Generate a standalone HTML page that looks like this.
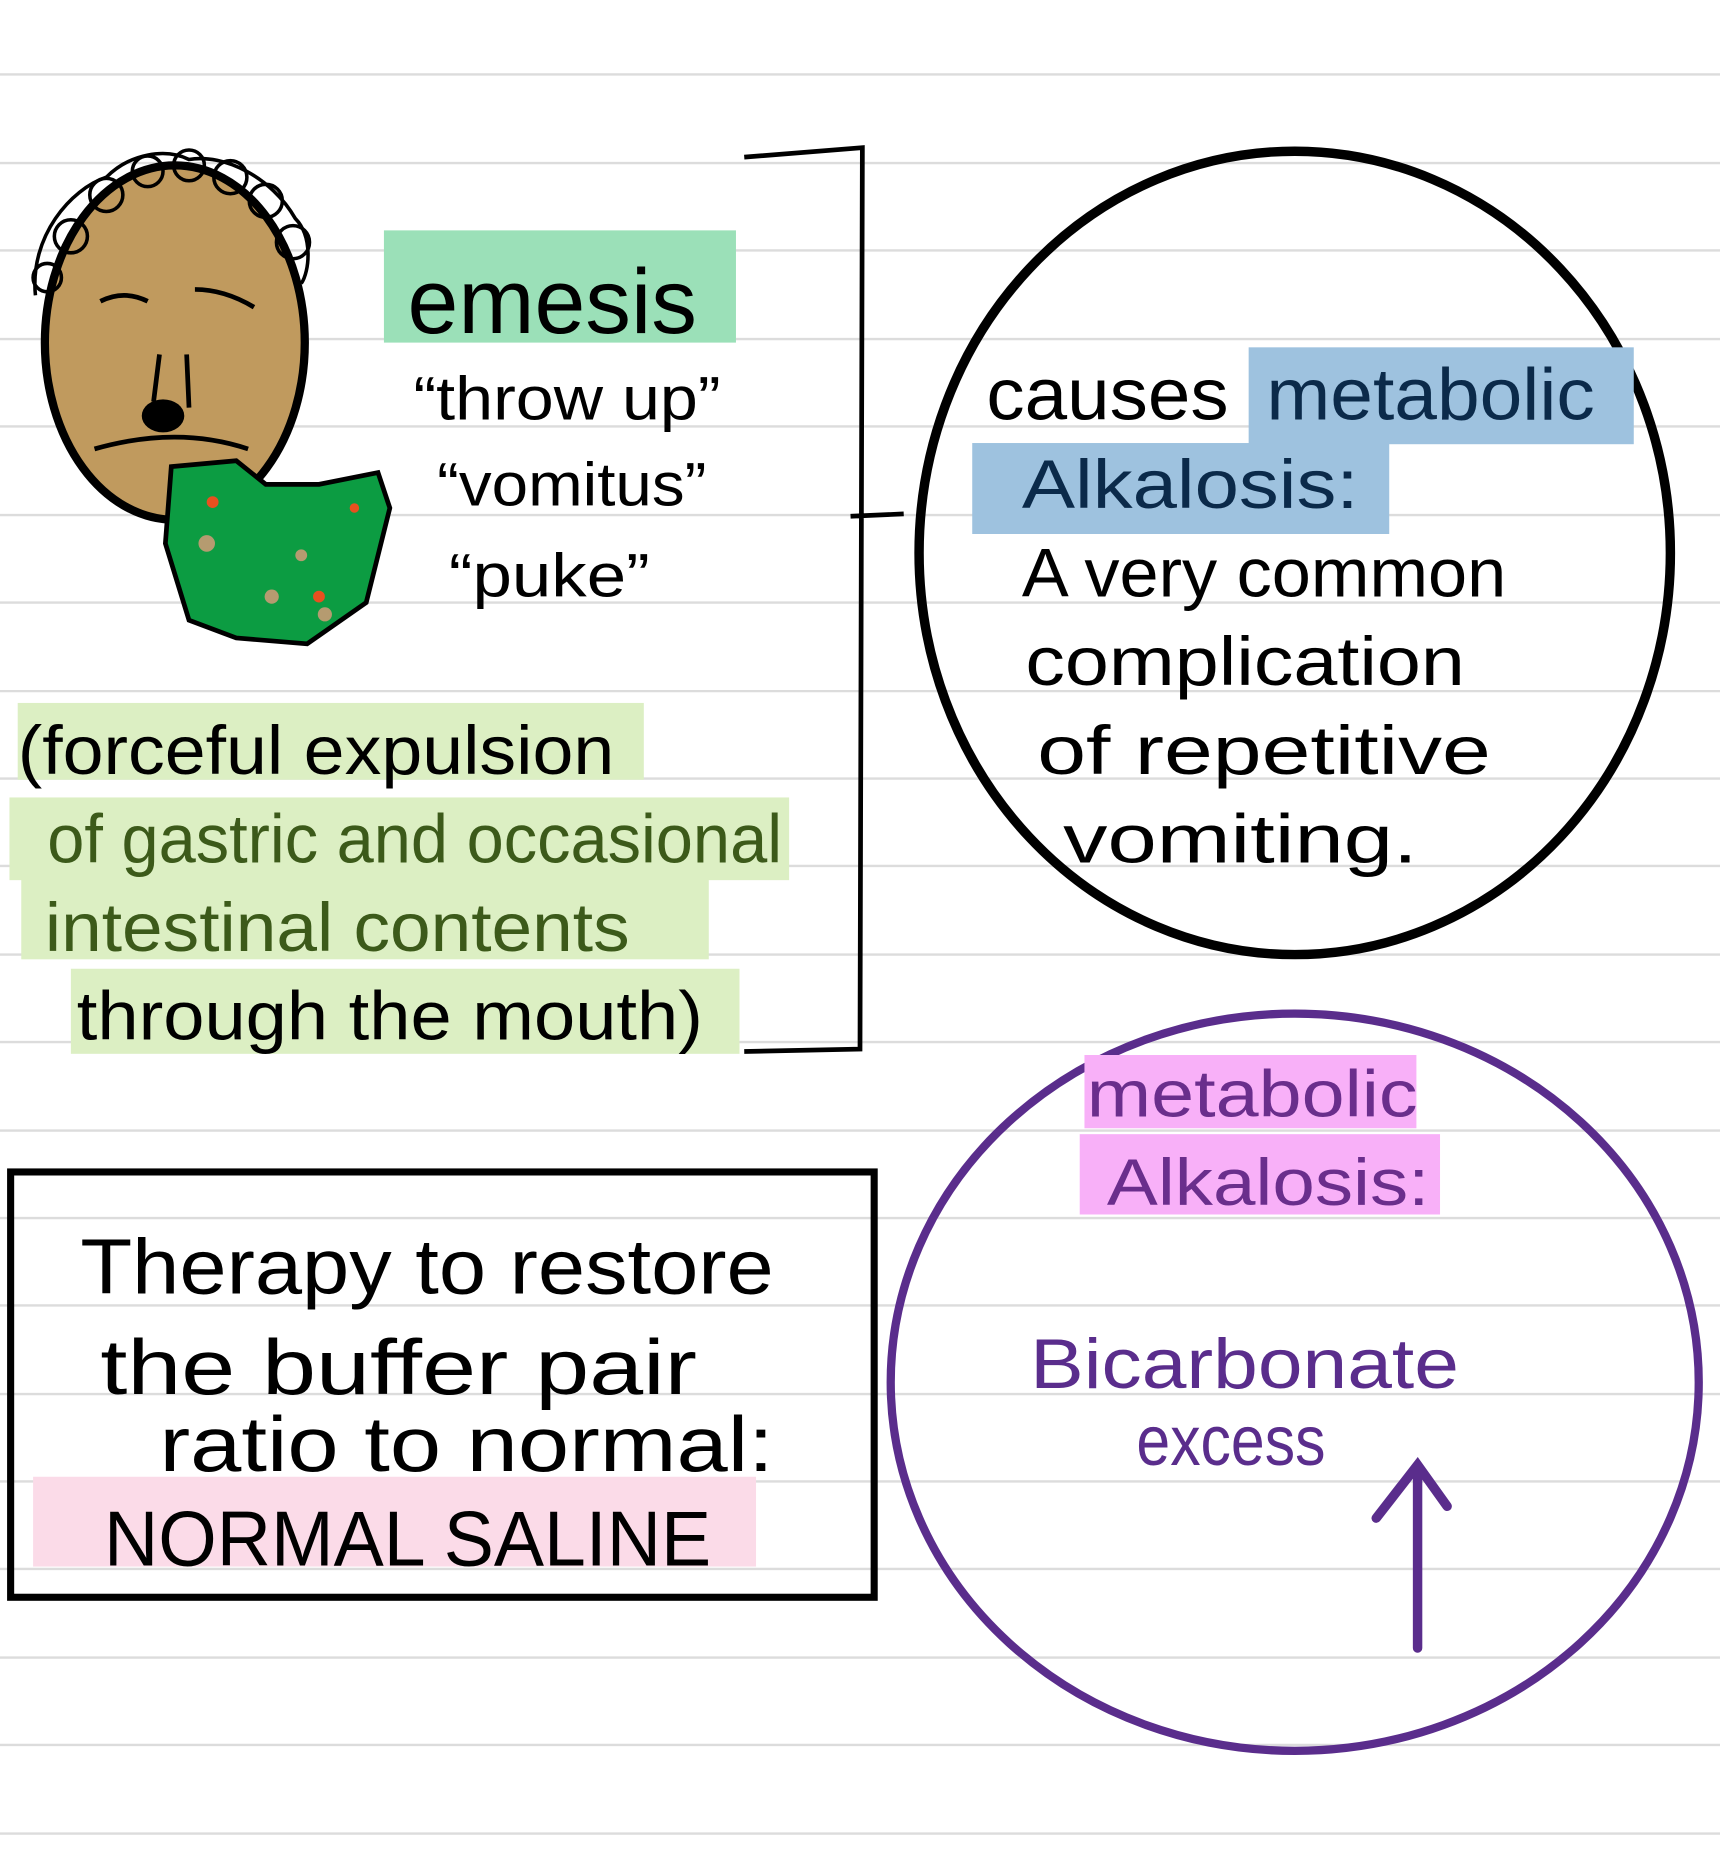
<!DOCTYPE html>
<html><head><meta charset="utf-8"><style>
html,body{margin:0;padding:0;background:#fff;}
svg{display:block;}
text{font-family:"Liberation Sans",sans-serif;}
</style></head><body>
<svg width="1720" height="1856" viewBox="0 0 1456 1571" preserveAspectRatio="none" xmlns="http://www.w3.org/2000/svg">
<rect width="1456" height="1571" fill="#fff"/>
<g stroke="#dcdcdc" stroke-width="2">
<line x1="0" y1="63" x2="1456" y2="63"/><line x1="0" y1="138" x2="1456" y2="138"/><line x1="0" y1="212" x2="1456" y2="212"/><line x1="0" y1="287" x2="1456" y2="287"/><line x1="0" y1="361" x2="1456" y2="361"/><line x1="0" y1="436" x2="1456" y2="436"/><line x1="0" y1="510" x2="1456" y2="510"/><line x1="0" y1="585" x2="1456" y2="585"/><line x1="0" y1="659" x2="1456" y2="659"/><line x1="0" y1="733" x2="1456" y2="733"/><line x1="0" y1="808" x2="1456" y2="808"/><line x1="0" y1="882" x2="1456" y2="882"/><line x1="0" y1="957" x2="1456" y2="957"/><line x1="0" y1="1031" x2="1456" y2="1031"/><line x1="0" y1="1105" x2="1456" y2="1105"/><line x1="0" y1="1180" x2="1456" y2="1180"/><line x1="0" y1="1254" x2="1456" y2="1254"/><line x1="0" y1="1328" x2="1456" y2="1328"/><line x1="0" y1="1403" x2="1456" y2="1403"/><line x1="0" y1="1477" x2="1456" y2="1477"/><line x1="0" y1="1552" x2="1456" y2="1552"/>
</g>
<!-- face -->
<ellipse cx="148" cy="290" rx="110" ry="150" fill="#c09a5e" stroke="#000" stroke-width="7"/>
<g fill="none" stroke="#000" stroke-width="3">
<path d="M30 250 C25 200 60 160 90 150 C110 130 140 125 160 135 C190 130 230 150 250 185 C265 200 262 230 255 240"/>
<circle cx="60" cy="200" r="14"/><circle cx="90" cy="165" r="14"/><circle cx="125" cy="145" r="13"/><circle cx="160" cy="140" r="13"/><circle cx="195" cy="150" r="14"/><circle cx="225" cy="170" r="14"/><circle cx="248" cy="205" r="14"/><circle cx="40" cy="235" r="12"/>
</g>
<path d="M85 255 Q105 245 125 255 M165 245 Q190 245 215 260 M80 380 Q150 360 210 380 M135 300 L130 340 M158 300 L160 345" fill="none" stroke="#000" stroke-width="4"/>
<ellipse cx="138" cy="352" rx="18" ry="14" fill="#000"/>
<!-- vomit -->
<path d="M145 395 L200 390 L225 410 L270 410 L320 400 L330 430 L310 510 L260 545 L200 540 L160 525 L140 460 Z" fill="#0c9c42" stroke="#000" stroke-width="4"/>
<g fill="#e8501f"><circle cx="180" cy="425" r="5"/><circle cx="270" cy="505" r="5"/><circle cx="300" cy="430" r="4"/></g>
<g fill="#b59b70"><circle cx="175" cy="460" r="7"/><circle cx="230" cy="505" r="6"/><circle cx="275" cy="520" r="6"/><circle cx="255" cy="470" r="5"/></g>
<!-- emesis -->
<rect x="325" y="195" width="298" height="95" fill="#9be0b8"/>
<g lengthAdjust="spacingAndGlyphs">
<text x="345" y="282" font-size="78" textLength="245" lengthAdjust="spacingAndGlyphs">emesis</text>
<text x="350" y="355" font-size="52" textLength="260" lengthAdjust="spacingAndGlyphs">“throw up”</text>
<text x="370" y="428" font-size="52" textLength="228" lengthAdjust="spacingAndGlyphs">“vomitus”</text>
<text x="380" y="505" font-size="52" textLength="170" lengthAdjust="spacingAndGlyphs">“puke”</text>
</g>
<!-- definition -->
<rect x="15" y="595" width="530" height="65" fill="#dcefc3"/>
<rect x="8" y="675" width="660" height="70" fill="#dcefc3"/>
<rect x="18" y="742" width="582" height="70" fill="#dcefc3"/>
<rect x="60" y="820" width="566" height="72" fill="#dcefc3"/>
<text x="15" y="655" font-size="58" textLength="505" lengthAdjust="spacingAndGlyphs">(forceful expulsion</text>
<text x="40" y="730" font-size="58" fill="#3c5a1a" textLength="622" lengthAdjust="spacingAndGlyphs">of gastric and occasional</text>
<text x="38" y="805" font-size="58" fill="#3c5a1a" textLength="495" lengthAdjust="spacingAndGlyphs">intestinal contents</text>
<text x="65" y="880" font-size="58" textLength="530" lengthAdjust="spacingAndGlyphs">through the mouth)</text>
<!-- bracket -->
<path d="M630 133 L730 125 L728 888 L630 890 M720 437 L765 435" fill="none" stroke="#000" stroke-width="4"/>
<!-- black circle -->
<ellipse cx="1096" cy="468" rx="318" ry="340" fill="none" stroke="#000" stroke-width="8"/>
<rect x="1057" y="294" width="326" height="82" fill="#9ec2df"/>
<rect x="823" y="375" width="353" height="77" fill="#9ec2df"/>
<text x="835" y="355" font-size="62" textLength="205" lengthAdjust="spacingAndGlyphs">causes</text>
<text x="1072" y="355" font-size="62" fill="#0b2a4a" textLength="278" lengthAdjust="spacingAndGlyphs">metabolic</text>
<text x="865" y="430" font-size="58" fill="#0b2a4a" textLength="285" lengthAdjust="spacingAndGlyphs">Alkalosis:</text>
<text x="865" y="505" font-size="58" textLength="410" lengthAdjust="spacingAndGlyphs">A very common</text>
<text x="868" y="580" font-size="58" textLength="372" lengthAdjust="spacingAndGlyphs">complication</text>
<text x="878" y="655" font-size="58" textLength="384" lengthAdjust="spacingAndGlyphs">of repetitive</text>
<text x="900" y="730" font-size="58" textLength="300" lengthAdjust="spacingAndGlyphs">vomiting.</text>
<!-- therapy box -->
<rect x="9" y="992" width="731" height="360" fill="none" stroke="#000" stroke-width="6"/>
<rect x="28" y="1250" width="612" height="76" fill="#fbdbe8"/>
<text x="68" y="1095" font-size="66" textLength="587" lengthAdjust="spacingAndGlyphs">Therapy to restore</text>
<text x="85" y="1180" font-size="66" textLength="505" lengthAdjust="spacingAndGlyphs">the buffer pair</text>
<text x="135" y="1245" font-size="66" textLength="520" lengthAdjust="spacingAndGlyphs">ratio to normal:</text>
<text x="88" y="1325" font-size="66" textLength="514" lengthAdjust="spacingAndGlyphs">NORMAL SALINE</text>
<!-- purple circle -->
<ellipse cx="1096" cy="1170" rx="342" ry="312" fill="none" stroke="#5a2d8c" stroke-width="7"/>
<rect x="918" y="893" width="281" height="62" fill="#f8b0f8"/>
<rect x="914" y="960" width="305" height="68" fill="#f8b0f8"/>
<text x="920" y="945" font-size="56" fill="#6a2e8c" textLength="280" lengthAdjust="spacingAndGlyphs">metabolic</text>
<text x="937" y="1020" font-size="56" fill="#6a2e8c" textLength="273" lengthAdjust="spacingAndGlyphs">Alkalosis:</text>
<text x="872" y="1175" font-size="60" fill="#5a2d8c" textLength="363" lengthAdjust="spacingAndGlyphs">Bicarbonate</text>
<text x="962" y="1240" font-size="60" fill="#5a2d8c" textLength="160" lengthAdjust="spacingAndGlyphs">excess</text>
<path d="M1200 1395 L1200 1240 M1165 1285 L1200 1240 L1225 1275" fill="none" stroke="#5a2d8c" stroke-width="8" stroke-linecap="round"/>
</svg>
</body></html>
